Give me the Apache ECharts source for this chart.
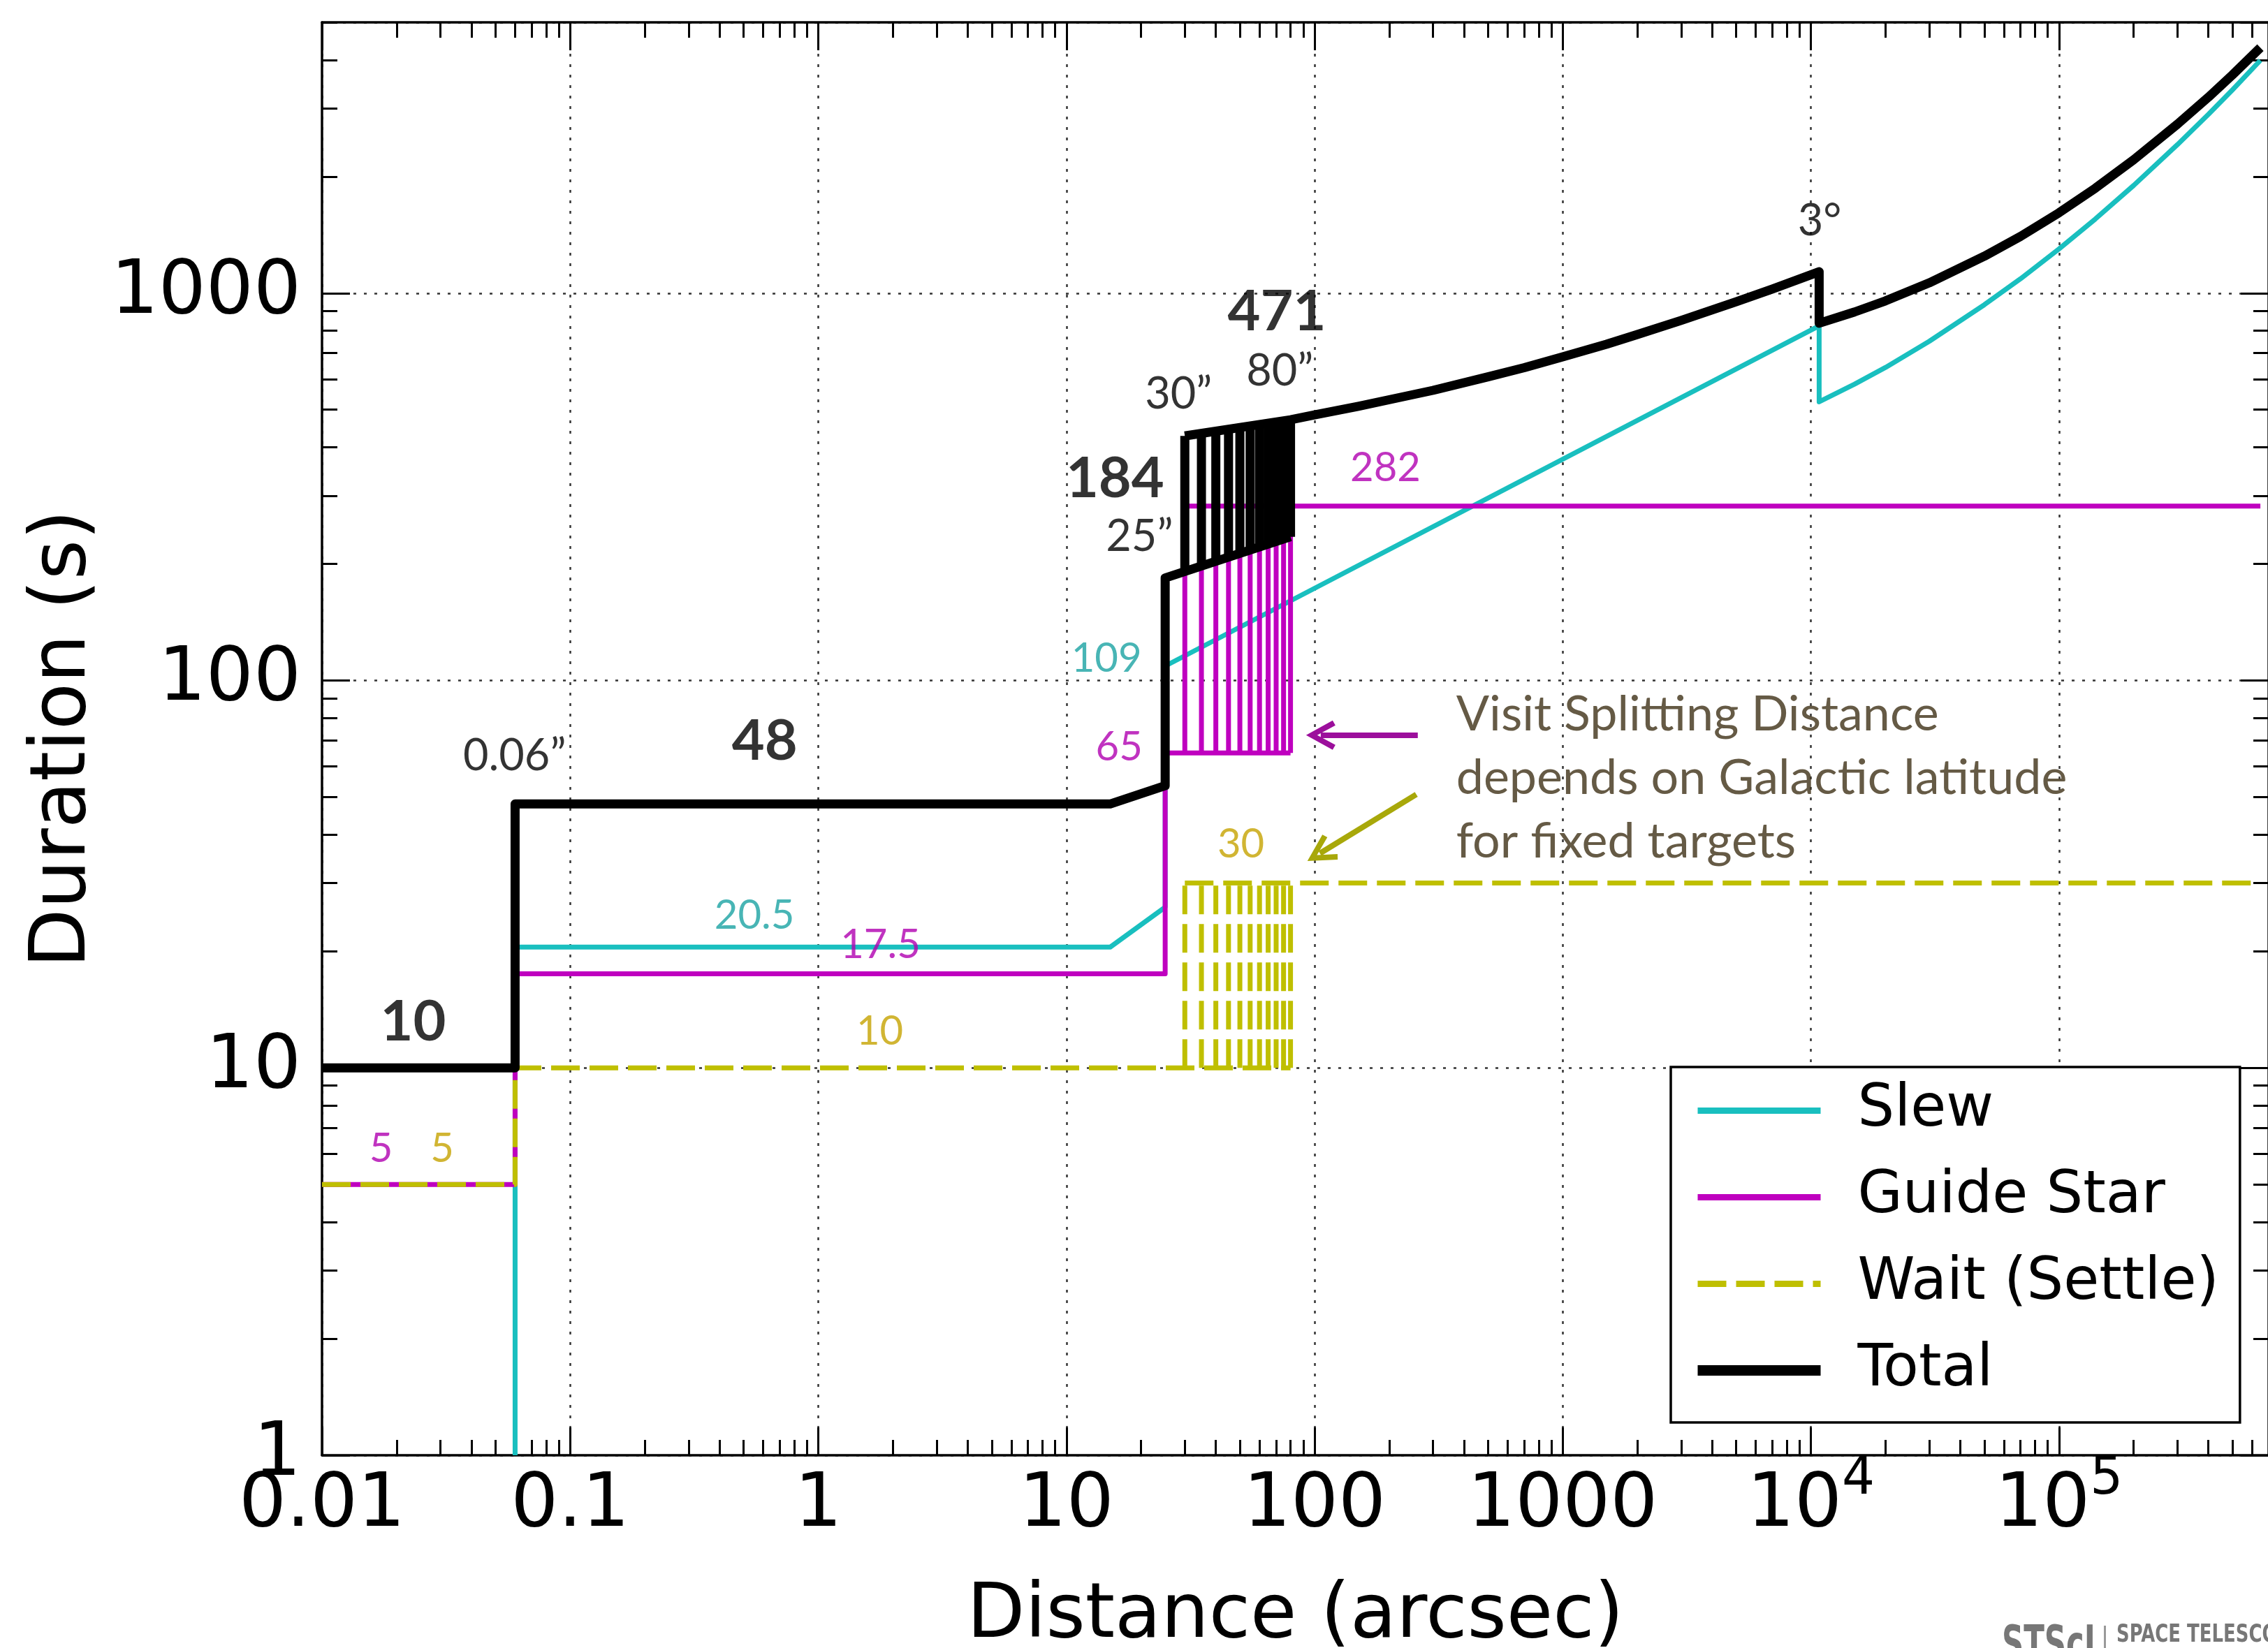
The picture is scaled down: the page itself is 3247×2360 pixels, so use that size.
<!DOCTYPE html>
<html>
<head>
<meta charset="utf-8">
<title>Slew, guide star and settle duration vs distance</title>
<script src="https://cdn.jsdelivr.net/npm/echarts@6/dist/echarts.min.js"></script>
<style>
  html, body { margin: 0; padding: 0; background: #fff; }
  #chart { width: 3247px; height: 2360px; }
</style>
</head>
<body>
<div id="chart"></div>
<script>
// ---- values ----
const xTickLabels = ['0.01', '0.1', '1', '10', '100', '1000', '10^4', '10^5']
const yTickLabels = ['1', '10', '100', '1000']

// visit splitting distances (arcsec) and the total just below / above each one
const splitDist = [30, 35, 40, 45, 50, 55, 60, 65, 70, 75, 80]
const totalBelowSplit = [191, 197, 203, 208, 212, 217, 221, 225, 229, 232, 235]
const totalAboveSplit = [428, 434, 440, 445, 449, 454, 458, 462, 466, 469, 471]

const slewLine = [[0.06, 1], [0.06, 20.5], [15, 20.5], [25, 26], [25, 109], [10800, 823],
  [10800, 524], [15000, 582], [20000, 643], [30000, 751], [50000, 933], [70000, 1089], [100000, 1300],
  [140000, 1553], [200000, 1897], [300000, 2417], [400000, 2893], [500000, 3347], [648000, 3990]]

const guideLine = [[0.01, 5], [0.06, 5], [0.06, 17.5], [25, 17.5], [25, 65], [80, 65]]
const guideFull = [[30, 282], [648000, 282]]
const guideSmall = 65
const guideLarge = 282

const waitLine = [[0.01, 5], [0.06, 5], [0.06, 10], [80, 10]]
const waitFull = [[30, 30], [648000, 30]]
const waitSmall = 10
const waitLarge = 30

const totalLine = [[0.01, 10], [0.06, 10], [0.06, 48], [15, 48], [25, 53.5], [25, 184], [80, 235]]
const totalFar = [[30, 428], [80, 471], [100, 485], [150, 510], [215, 536], [300, 561], [500, 608], [700, 642],
  [1000, 685], [1500, 738], [2000, 782], [3000, 850], [5000, 950], [7000, 1025], [10800, 1136],
  [10800, 836], [15000, 894], [20000, 955], [30000, 1063], [50000, 1245], [70000, 1401], [100000, 1612],
  [140000, 1865], [200000, 2209], [300000, 2729], [400000, 3205], [500000, 3659], [648000, 4302]]

// annotations: [x, y, text, kind]
const notes = [
  [0.0233, 13.1, '10', 'bold'],
  [0.0597, 63.7, '0.06\u201d', 'plain'],
  [0.608, 69.5, '48', 'bold'],
  [0.553, 24.7, '20.5', 'slew'],
  [1.78, 20.8, '17.5', 'guide'],
  [1.77, 12.4, '10', 'wait'],
  [0.0173, 6.19, '5', 'guide'],
  [0.0305, 6.19, '5', 'wait'],
  [15.7, 332, '184', 'bold'],
  [19.7, 235, '25\u201d', 'plain'],
  [28.3, 547, '30\u201d', 'plain'],
  [70.5, 893, '471', 'bold'],
  [72.4, 628, '80\u201d', 'plain'],
  [14.5, 114, '109', 'slew'],
  [16.3, 67.1, '65', 'guide'],
  [193, 353, '282', 'guide'],
  [50.5, 37.7, '30', 'wait'],
  [10840, 1536, '3\u00b0', 'plain'],
]
const splitNote = 'Visit Splitting Distance\ndepends on Galactic latitude\nfor fixed targets'
const splitNoteAt = [372, 98.5]
// arrows: [from, to, kind]
const arrows = [
  [[260.6, 72.3], [105.9, 72.3], 'guideArrow'],
  [[257, 50.8], [105.1, 35.8], 'waitArrow'],
]

// ---- styling ----
const colors = { slew: '#19bfbf', guide: '#bf00bf', wait: '#bfbf00', total: '#000000' }
const noteStyle = {
  bold: { color: '#000', fontSize: 81, fontWeight: 'bold' },
  plain: { color: '#000', fontSize: 63 },
  slew: { color: '#1aa3a3', fontSize: 58 },
  guide: { color: '#b000b0', fontSize: 58 },
  wait: { color: '#c6a300', fontSize: 58 },
}
const arrowColor = { guideArrow: '#9c0f9c', waitArrow: '#a8a80a' }
const xMin = 0.01, xMax = 700000, yMin = 1, yMax = 5000
const lw = 7, lwTotal = 13
const waitDash = [41, 14]
const font = 'DejaVu Sans'

const minorX = []
for (let e = -2; e <= 5; e++) for (let m = 2; m <= 9; m++) {
  const v = +(m * Math.pow(10, e)).toPrecision(3)
  if (v < xMax) minorX.push(v)
}
const minorY = []
for (let e = 0; e <= 3; e++) for (let m = 2; m <= 9; m++) {
  const v = m * Math.pow(10, e)
  if (v <= yMax) minorY.push(v)
}

function decade(v) {
  const e = Math.log10(v)
  const r = Math.round(e)
  return Math.abs(e - r) < 1e-6 ? r : null
}

function xLabel(v) {
  const e = decade(v)
  if (e === null) return ''
  const t = xTickLabels[e + 2]
  if (!t) return ''
  if (t.indexOf('^') > 0) {
    const [b, s] = t.split('^')
    return '{b|' + b + '}{s|' + s + '}'
  }
  return t
}
function yLabel(v) {
  const e = decade(v)
  return e === null ? '' : (yTickLabels[e] || '')
}

const tickLine = { color: '#000', width: 3 }
const gridLine = { color: '#333', width: 2.5, type: [4, 11] }

function axis(kind, position, role) {
  const isX = kind === 'x'
  const a = {
    type: 'log', logBase: 10, position,
    min: isX ? xMin : yMin, max: isX ? xMax : yMax,
    axisLine: { show: role !== 'minor', lineStyle: { color: '#000', width: 3.5 } },
    axisTick: role === 'minor'
      ? { show: true, inside: true, length: 22, customValues: isX ? minorX : minorY, lineStyle: tickLine }
      : { show: true, inside: true, length: 40, lineStyle: tickLine },
    axisLabel: { show: false },
    splitLine: { show: false },
    minorTick: { show: false },
  }
  if (role === 'main') {
    a.splitLine = { show: true, lineStyle: gridLine }
    if (isX) {
      a.axisLabel = {
        show: true, margin: 20, formatter: xLabel, showMaxLabel: false,
        fontFamily: font, fontSize: 107, color: '#000',
        rich: {
          b: { fontFamily: font, fontSize: 107, lineHeight: 107, color: '#000' },
          s: { fontFamily: font, fontSize: 74, lineHeight: 74, color: '#000', padding: [0, 0, 76, 0] },
        },
      }
      a.name = 'Distance (arcsec)'
      a.nameLocation = 'middle'
      a.nameGap = 178
      a.nameTextStyle = { fontFamily: font, fontSize: 108, color: '#000' }
    } else {
      a.axisLabel = { show: true, margin: 30, formatter: yLabel, showMaxLabel: false, fontFamily: font, fontSize: 107, color: '#000' }
      a.name = 'Duration (s)'
      a.nameLocation = 'middle'
      a.nameGap = 312
      a.nameRotate = 90
      a.nameTextStyle = { fontFamily: font, fontSize: 110, color: '#000' }
    }
  }
  return a
}

function line(name, data, color, width, dash) {
  return {
    name, type: 'line', data, symbol: 'none', showSymbol: false, silent: true, clip: true,
    itemStyle: { color },
    lineStyle: { color, width, type: dash || 'solid', cap: 'butt', join: 'round' },
  }
}

const series = []
// slew
series.push(line('Slew', slewLine, colors.slew, lw))
// guide star
series.push(line('Guide Star', guideLine, colors.guide, lw))
series.push(line('Guide Star', guideFull, colors.guide, lw))
splitDist.forEach(d => series.push(line('Guide Star', [[d, guideSmall], [d, guideLarge]], colors.guide, lw)))
// wait (settle)
series.push(line('Wait (Settle)', waitLine, colors.wait, lw, waitDash))
series.push(line('Wait (Settle)', waitFull, colors.wait, lw, waitDash))
splitDist.forEach(d => series.push(line('Wait (Settle)', [[d, waitSmall], [d, waitLarge]], colors.wait, lw, waitDash)))
// total
series.push(line('Total', totalLine, colors.total, lwTotal))
series.push(line('Total', totalFar, colors.total, lwTotal))
splitDist.forEach((d, i) => series.push(line('Total', [[d, totalBelowSplit[i]], [d, totalAboveSplit[i]]], colors.total, lwTotal)))

// annotation text
const noteFont = 'Lato'
series.push({
  name: 'notes', type: 'scatter', symbolSize: 0, silent: true, z: 5,
  data: notes.map(n => ({
    value: [n[0], n[1]],
    label: Object.assign({ show: true, position: 'inside', formatter: n[2], fontFamily: noteFont }, noteStyle[n[3]]),
  })).concat([{
    value: splitNoteAt,
    label: {
      show: true, position: [0, 0], align: 'left', verticalAlign: 'top', formatter: splitNote,
      fontFamily: noteFont, fontSize: 70, lineHeight: 91, color: '#3f3116',
    },
  }]),
})

// arrows (open chevron heads)
const chevron = 'path://M0,-4 L21,34 L14,38 L0,12 L-14,38 L-21,34 Z'
arrows.forEach(a => {
  series.push({
    name: 'arrow', type: 'scatter', data: [], silent: true, z: 5,
    markLine: {
      silent: true, animation: false, symbol: ['none', chevron], symbolSize: [42, 42],
      label: { show: false },
      lineStyle: { color: arrowColor[a[2]], width: 8, type: 'solid', cap: 'butt' },
      emphasis: { disabled: true },
      data: [[{ coord: a[0] }, { coord: a[1] }]],
    },
  })
})

const legendNames = ['Slew', 'Guide Star', 'Wait (Settle)', 'Total']
const legendWidths = [9, 9, 9, 15]

const chart = echarts.init(document.getElementById('chart'), null, { renderer: 'canvas' })
chart.setOption({
  animation: false,
  backgroundColor: '#ffffff',
  grid: { left: 461, right: -1, top: 32, bottom: 276, outerBoundsMode: 'none', containLabel: false },
  xAxis: [axis('x', 'bottom', 'main'), axis('x', 'bottom', 'minor'), axis('x', 'top', 'top'), axis('x', 'top', 'minor')],
  yAxis: [axis('y', 'left', 'main'), axis('y', 'left', 'minor'), axis('y', 'right', 'top'), axis('y', 'right', 'minor')],
  legend: {
    orient: 'vertical', left: 2392, top: 1528,
    padding: [21, 30, 33, 31],
    itemWidth: 176, itemHeight: 16, itemGap: 41,
    borderColor: '#000', borderWidth: 3.5, borderRadius: 0, backgroundColor: '#fff',
    selectedMode: false,
    textStyle: { fontFamily: font, fontSize: 83, color: '#000', padding: [0, 0, 0, 48] },
    data: legendNames.map((name, i) => ({ name, itemStyle: { opacity: 0 }, lineStyle: { width: legendWidths[i] } })),
  },
  graphic: [
    { type: 'text', x: 2866, y: 2324, scaleX: 0.62, silent: true,
      style: { text: 'STScI', font: 'bold 70px "DejaVu Sans"', fill: '#777', align: 'left', verticalAlign: 'top' } },
    { type: 'rect', x: 3012, y: 2328, silent: true, shape: { width: 3, height: 40 }, style: { fill: '#999' } },
    { type: 'text', x: 3030, y: 2324, scaleX: 0.72, silent: true,
      style: { text: 'SPACE TELESCOPE', font: 'bold 36px "DejaVu Sans"', fill: '#777', align: 'left', verticalAlign: 'top' } },
  ],
  series,
})
</script>
</body>
</html>
